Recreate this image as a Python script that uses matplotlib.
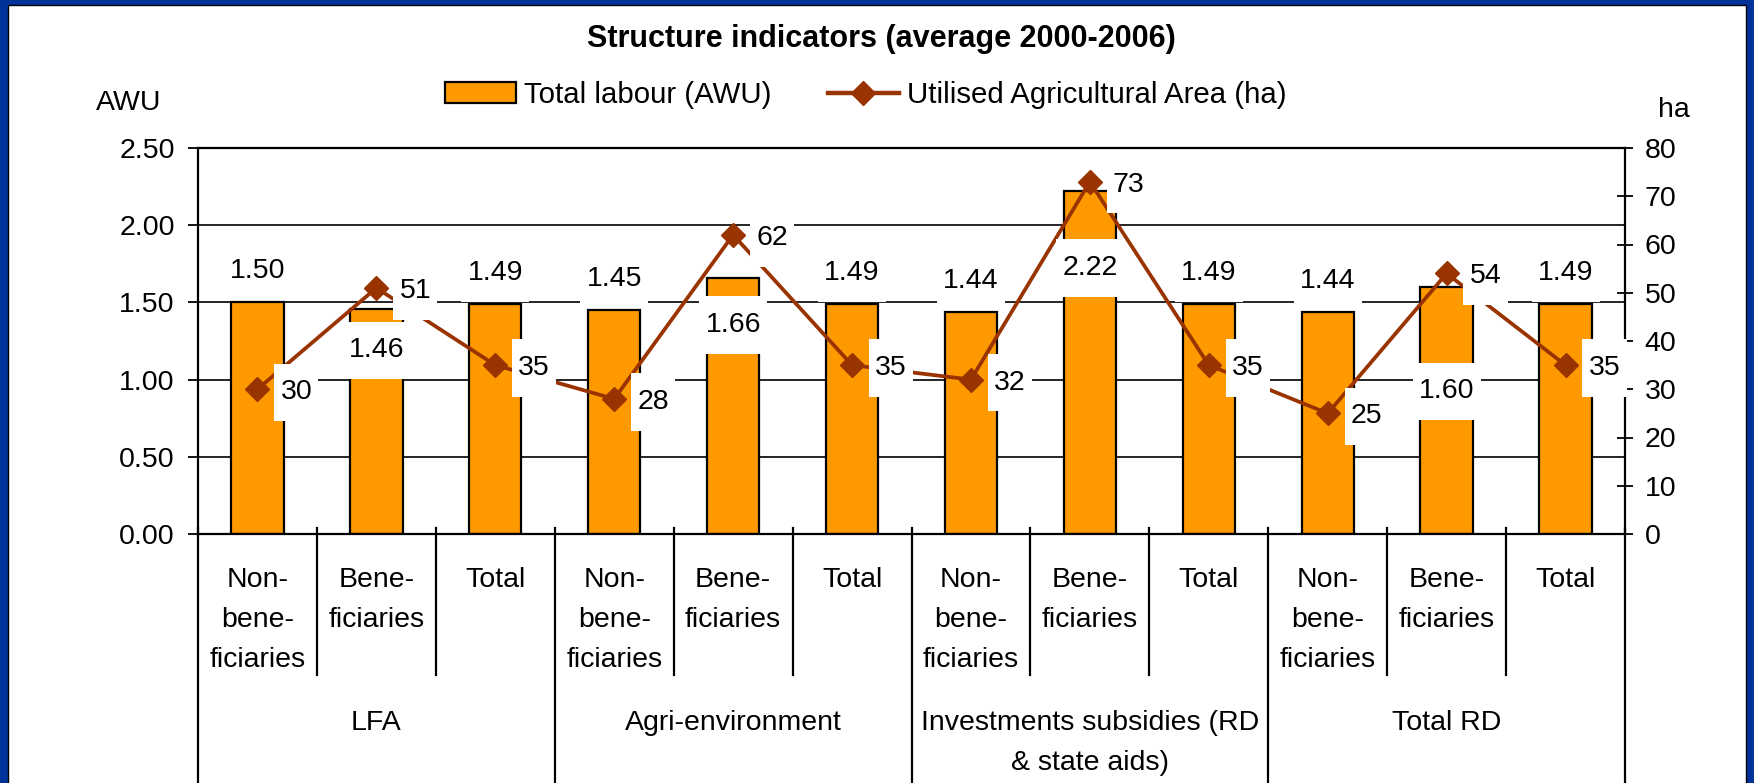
import numpy as np
import matplotlib.pyplot as plt
import matplotlib.transforms as mtransforms
from matplotlib.patches import Rectangle, Patch
from matplotlib.lines import Line2D
from matplotlib.path import Path

plt.rcParams['font.family'] = ['Liberation Sans', 'DejaVu Sans']
plt.rcParams['font.size'] = 20.5

# data
groups = ['LFA', 'Agri-environment', 'Investments subsidies (RD\n& state aids)', 'Total RD']
subgroups = ['Non-\nbene-\nficiaries', 'Bene-\nficiaries', 'Total']
labour_awu = [1.50, 1.46, 1.49, 1.45, 1.66, 1.49, 1.44, 2.22, 1.49, 1.44, 1.60, 1.49]
area_ha = [30, 51, 35, 28, 62, 35, 32, 73, 35, 25, 54, 35]

# bar value labels: offset in points from the bar top (+ above, - inside)
bar_lab_dy = [24.5, -28, 24.5, 24.5, -32, 24.5, 24.5, -53, 24.5, 24.5, -73, 24.5]

bar_color = '#FF9900'
line_color = '#993300'
W, H = 1754, 783


def tall_box(x0, y0, width, height, mutation_size):
    # white label box, taller than wide padding (like excel data labels)
    px, py = 0.22 * mutation_size, 0.55 * mutation_size
    x0, y0 = x0 - px, y0 - py
    x1, y1 = x0 + width + 2 * px, y0 + height + 2 * py
    return Path([(x0, y0), (x1, y0), (x1, y1), (x0, y1), (x0, y0)], closed=True)


fig = plt.figure(figsize=(W / 100, H / 100), dpi=100, facecolor='#003399')
fig.patches.append(Rectangle((7.5 / W, -0.05), (1746 - 7.5) / W, 1.05 - 5.5 / H,
                             transform=fig.transFigure, facecolor='white',
                             edgecolor='black', lw=1, zorder=-5))

ax = fig.add_axes([198 / W, 1 - 534 / H, (1625 - 198) / W, (534 - 148) / H])
x = np.arange(len(labour_awu))
ax.bar(x, labour_awu, width=0.44, color=bar_color, edgecolor='black', lw=1.6, zorder=2)
ax.set_xlim(-0.5, 11.5)
ax.set_ylim(0, 2.5)
yt = np.arange(0, 2.51, 0.5)
ax.set_yticks(yt)
ax.set_yticklabels([f'{v:.2f}' for v in yt])
ax.yaxis.grid(True, color='black', lw=1.2)
ax.set_axisbelow(True)
ax.set_xticks([])
ax.tick_params(axis='y', direction='out', length=7, width=1.3, pad=9.7)
for s in ax.spines.values():
    s.set_linewidth(1.6)
ax.spines['right'].set_visible(False)

ax2 = ax.twinx()
ax2.plot(x, area_ha, color=line_color, lw=2.7, marker='D', ms=12, zorder=3)
ax2.set_ylim(0, 80)
ax2.set_yticks(range(0, 81, 10))
ax2.tick_params(axis='y', direction='inout', length=11, width=1.3, pad=8.6)
for s in ['left', 'top', 'bottom']:
    ax2.spines[s].set_visible(False)
ax2.spines['right'].set_linewidth(1.6)

# data labels with white boxes
for i in x:
    ax2.annotate(f'{labour_awu[i]:.2f}', xy=(i, labour_awu[i]), xycoords=ax.transData,
                 xytext=(0, bar_lab_dy[i]), textcoords='offset points',
                 ha='center', va='center_baseline', zorder=5,
                 bbox=dict(boxstyle=tall_box, fc='white', ec='none'))
for i in x:
    ax2.annotate(f'{area_ha[i]}', xy=(i, area_ha[i]), xytext=(28, 0),
                 textcoords='offset points', ha='center', va='center_baseline',
                 zorder=6, bbox=dict(boxstyle=tall_box, fc='white', ec='none'))

# two-level category axis
trans = mtransforms.blended_transform_factory(ax.transData, ax.transAxes)
for i in x:
    ax.text(i, -0.0855, subgroups[i % 3], transform=trans, ha='center', va='top',
            linespacing=1.7)
for g, name in enumerate(groups):
    ax.text(3 * g + 1, -0.456, name, transform=trans, ha='center', va='top',
            linespacing=1.7)
for b in np.arange(-0.5, 12, 1):
    y_end = -0.7 if (b + 0.5) % 3 == 0 else -0.365
    ax.plot([b, b], [0.0155, y_end], transform=trans, color='black', lw=1.6,
            clip_on=False)

fig.text(129 / W, 1 - 100 / H, 'AWU', ha='center', va='center_baseline')
fig.text(1674 / W, 1 - 107 / H, 'ha', ha='center', va='center_baseline')
fig.text(881 / W, 1 - 35 / H, 'Structure indicators (average 2000-2006)',
         ha='center', va='center_baseline', fontsize=22, fontweight='bold')

handles = [Patch(facecolor=bar_color, edgecolor='black', lw=1.6),
           Line2D([], [], color=line_color, lw=3.2, marker='D', ms=12)]
fig.legend(handles, ['Total labour (AWU)', 'Utilised Agricultural Area (ha)'],
           loc='center', bbox_to_anchor=(866 / W, 1 - 95 / H), ncol=2, frameon=False,
           fontsize=21.2, handlelength=2.4, handletextpad=0.3, columnspacing=1.9,
           borderpad=0, borderaxespad=0)

fig.savefig('out.png', dpi=100)
